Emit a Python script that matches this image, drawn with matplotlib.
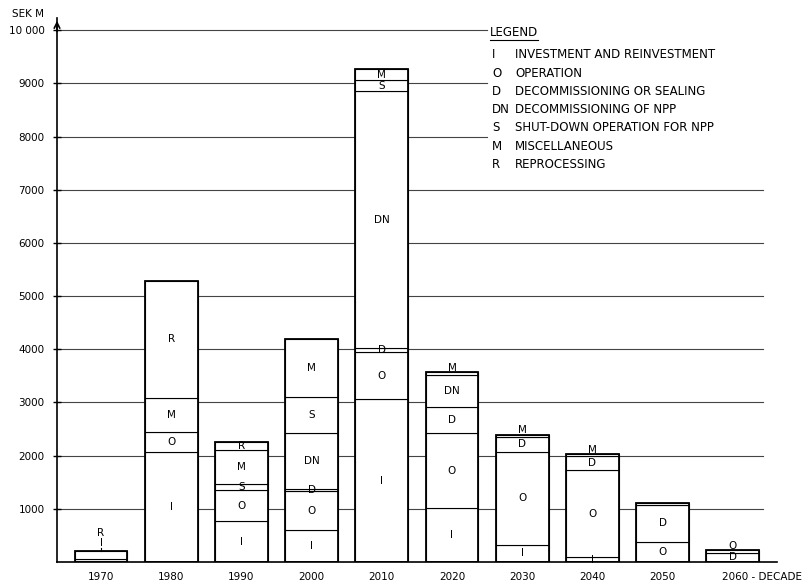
import matplotlib
matplotlib.use("Agg")
import matplotlib.pyplot as plt
from matplotlib.lines import Line2D

plt.rcParams["font.family"] = "DejaVu Sans"

# data (SEK M per decade)
decades = ["1970", "1980", "1990", "2000", "2010", "2020", "2030", "2040", "2050", "2060 - DECADE"]
codes = [
    ["I", "R"],
    ["I", "O", "M", "R"],
    ["I", "O", "S", "M", "R"],
    ["I", "O", "D", "DN", "S", "M"],
    ["I", "O", "D", "DN", "S", "M"],
    ["I", "O", "D", "DN", "M"],
    ["I", "O", "D", "M"],
    ["I", "O", "D", "M"],
    ["O", "D", ""],
    ["D", "O"],
]
values = [
    [55, 150],
    [2060, 380, 640, 2210],
    [770, 580, 110, 640, 150],
    [600, 730, 40, 1055, 675, 1090],
    [3060, 890, 80, 4820, 210, 210],
    [1015, 1410, 490, 600, 55],
    [320, 1750, 280, 40],
    [90, 1640, 260, 40],
    [370, 710, 30],
    [170, 50],
]
yticks = [1000, 2000, 3000, 4000, 5000, 6000, 7000, 8000, 9000, 10000]
ytick_labels = ["1000", "2000", "3000", "4000", "5000", "6000", "7000", "8000", "9000", "10 000"]
legend_codes = ["I", "O", "D", "DN", "S", "M", "R"]
legend_texts = [
    "INVESTMENT AND REINVESTMENT",
    "OPERATION",
    "DECOMMISSIONING OR SEALING",
    "DECOMMISSIONING OF NPP",
    "SHUT-DOWN OPERATION FOR NPP",
    "MISCELLANEOUS",
    "REPROCESSING",
]

W, H = 809, 585
fig = plt.figure(figsize=(W / 100, H / 100), dpi=100)
ax = fig.add_axes([57 / W, 23 / H, 720 / W, 544 / H])
ax.set_xlim(-0.627, 9.63)
ax.set_ylim(0, 10230)

fs = 7.5
lfs = 8.5

# grid lines (short ones stop at the legend)
for y in yticks:
    xmax = 5.5 if y >= 8000 else 9.43
    ax.plot([-0.627, xmax], [y, y], color="#444444", lw=0.8, zorder=1)

width = 0.75
for i, (cs, vs) in enumerate(zip(codes, values)):
    bottom = 0
    total = sum(vs)
    for k, (c, v) in enumerate(zip(cs, vs)):
        ax.bar(i, v, width, bottom=bottom, facecolor="white", edgecolor="black", lw=0.8, zorder=2)
        if c and i > 0:
            if v < 100 and k == len(cs) - 1:
                ax.text(i, bottom + v - 10, c, ha="center", va="bottom", fontsize=fs, zorder=4)
            else:
                ax.text(i, bottom + v / 2, c, ha="center", va="center", fontsize=fs, zorder=4)
        bottom += v
    ax.bar(i, total, width, facecolor="none", edgecolor="black", lw=1.3, zorder=3)

# tiny 1970 bar: labels stacked above it
top70 = sum(values[0])
ax.text(0, top70 + 50, codes[0][0], ha="center", va="bottom", fontsize=fs)
ax.text(0, top70 + 240, codes[0][1], ha="center", va="bottom", fontsize=fs)
ax.plot([0, 0], [top70, top70 + 60], color="black", lw=0.8)

# axes
for s in ["top", "right"]:
    ax.spines[s].set_visible(False)
ax.spines["left"].set_linewidth(1.2)
ax.spines["bottom"].set_linewidth(1.2)
ax.set_yticks(yticks)
ax.set_yticklabels(ytick_labels, fontsize=fs)
ax.tick_params(axis="y", direction="inout", length=6, width=1, pad=6)
ax.set_xticks(range(len(decades) - 1))
ax.set_xticklabels(decades[:-1], fontsize=fs)
ax.tick_params(axis="x", length=0, pad=7)
ax.text(len(decades) - 1 - 0.16, -180, decades[-1], ha="left", va="top", fontsize=fs)
ax.annotate("", xy=(0, 1.0), xycoords="axes fraction", xytext=(0, 0.97),
            arrowprops=dict(arrowstyle="->", lw=1.2, color="black"))
fig.text(12 / W, 1 - 14 / H, "SEK M", fontsize=fs, va="center", ha="left")

# legend
fig.text(490 / W, 1 - 32 / H, "LEGEND", fontsize=lfs, va="center", ha="left")
fig.add_artist(Line2D([490 / W, 538 / W], [1 - 40 / H, 1 - 40 / H], color="black", lw=0.8))
for j, (c, t) in enumerate(zip(legend_codes, legend_texts)):
    yy = 1 - (55 + 18.2 * j) / H
    fig.text(492 / W, yy, c, fontsize=lfs, va="center", ha="left")
    fig.text(515 / W, yy, t, fontsize=lfs, va="center", ha="left")

fig.savefig("out.png", dpi=100)
